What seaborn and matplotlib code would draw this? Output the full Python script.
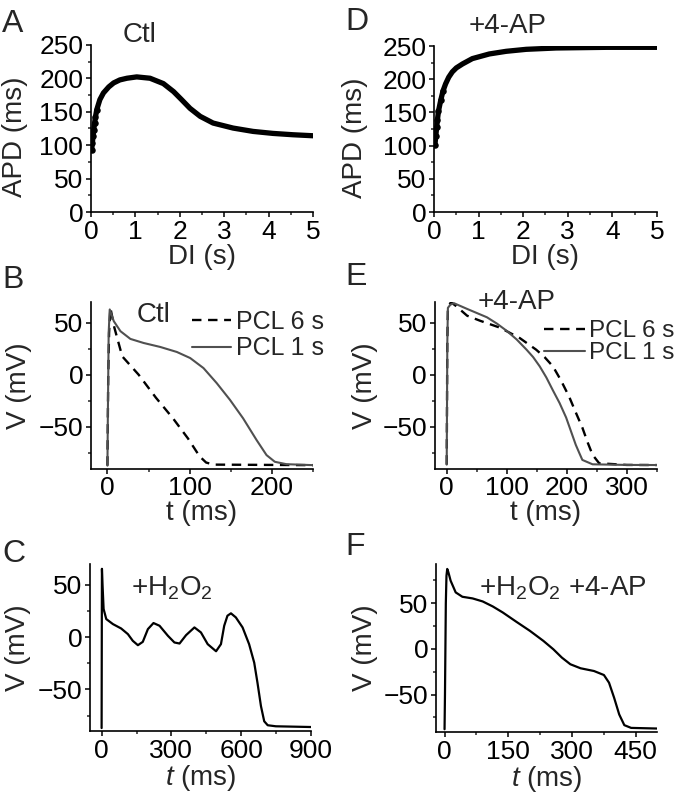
import seaborn as sns
import matplotlib.pyplot as plt
from matplotlib.ticker import MultipleLocator

# A: APD restitution, control
a_di = [0.015, 0.03, 0.045, 0.06, 0.08, 0.1, 0.13, 0.2, 0.28, 0.4, 0.51, 0.65, 0.81, 1.03,
        1.33, 1.63, 1.86, 2.04, 2.23, 2.46, 2.75, 3.2, 3.65, 4.1, 4.55, 5.0]
a_apd = [93, 103, 113, 122, 133, 142, 153, 168, 178, 187, 193, 197.5, 200, 202,
         200, 192, 180, 168, 155, 143, 133, 125.5, 120.5, 117.5, 115.5, 114]

# D: APD restitution, +4-AP
d_di = [0.02, 0.04, 0.06, 0.075, 0.1, 0.15, 0.2, 0.26, 0.33, 0.41, 0.5, 0.64, 0.86,
        1.24, 1.62, 2.07, 2.74, 3.87, 5.0]
d_apd = [101, 115, 128, 138, 152, 168, 182, 193, 203, 211, 217, 223, 231,
         238, 242, 245, 247, 248, 248]

# B: action potentials, control
b_t6 = [0, 0.5, 1, 2, 3.6, 8.5, 18, 38, 59, 80, 98, 112, 120, 129, 250]
b_v6 = [-87, -40, 0, 40, 64, 44.9, 17.6, 0, -22, -42, -61, -78, -84, -86, -86.5]
b_t1 = [0, 0.5, 1, 1.5, 2.8, 7.7, 15.8, 27.9, 44, 64.2, 84.4, 100.6, 116.8, 132.9, 149,
        165, 181.4, 193.5, 203.6, 217.8, 250]
b_v1 = [-87, -40, 0, 40, 62.5, 51.3, 41.7, 34.3, 30.4, 26.6, 21.8, 16, 6.4, -8, -24,
        -41.7, -62.5, -76.9, -83.3, -85.6, -86.5]

# E: action potentials, +4-AP
e_t6 = [0, 0.5, 1, 2, 7, 15, 34, 56, 89, 122, 149, 163, 177, 190, 204, 215, 226, 235,
        243, 254, 300, 350]
e_v6 = [-86, -30, 30, 64, 69.5, 66, 56.5, 51.6, 45, 35, 24, 16.9, 8, -5, -21, -36, -50.6,
        -65, -76.6, -84.7, -86.3, -86.4]
e_t1 = [0, 0.5, 1, 2, 6, 12, 34, 67, 83.5, 100, 116.5, 133, 144, 155, 166, 177, 188, 199,
        207, 215, 221, 226, 243, 300, 350]
e_v1 = [-86, -30, 30, 64, 67, 68.5, 63, 55, 49, 42, 33.8, 24, 16.9, 8, -2.6, -15, -27, -41,
        -54, -67, -75, -81.5, -85.7, -86.3, -86.4]

# C: +H2O2
c_t = [0, 0.5, 1, 1.4, 4, 8.6, 20, 48.6, 84, 113, 134, 156, 177, 199, 223, 249, 285, 313,
       335, 363, 399, 427, 456, 492, 513, 527, 541, 556, 577, 606, 634, 656, 670, 685, 699,
       714, 749, 900]
c_v = [-87, -30, 30, 65.4, 50, 26.9, 17.3, 12.5, 8.3, 2.9, -3.5, -7.7, -4.5, 7.7, 13.5, 10.9,
       1.3, -5.1, -6.1, 1.9, 9.3, 4.5, -6.7, -13.5, -6.7, 10.9, 20.5, 22.8, 18.9, 9.3, -6.7,
       -24.4, -43.6, -66, -80.5, -84.3, -85.3, -86]

# F: +H2O2 +4-AP
f_t = [0, 1, 2, 3, 4.5, 6.3, 9, 14.3, 26.2, 42, 66, 89.7, 113.5, 137, 169, 200.8, 232.5,
       256, 276, 296, 320, 351.6, 375, 387, 399, 411, 423, 439, 500]
f_v = [-88, -50, 0, 50, 80, 87.6, 84, 74.7, 61.9, 57.1, 55.3, 52, 46.5, 39.9, 29.7, 19.8,
       8.8, -0.4, -9.5, -16.8, -21.2, -24.2, -28.6, -37, -53.5, -71.8, -83.5, -86.5, -87.2]

sns.set_style('ticks')
plt.rcParams['font.family'] = ['Liberation Sans', 'DejaVu Sans']
plt.rcParams['mathtext.fontset'] = 'custom'
plt.rcParams['mathtext.rm'] = 'Liberation Sans'
plt.rcParams['mathtext.it'] = 'Liberation Sans:italic'

TICK_FS = 19
FS = 20


def style(ax, xlim, ylim, xmaj, xmin, ymaj, ymin, xlabel, ylabel, ylab_x, ylab_y=0.5):
    ax.set_xlim(xlim)
    ax.set_ylim(ylim)
    ax.xaxis.set_major_locator(MultipleLocator(xmaj))
    ax.xaxis.set_minor_locator(MultipleLocator(xmin))
    ax.yaxis.set_major_locator(MultipleLocator(ymaj))
    ax.yaxis.set_minor_locator(MultipleLocator(ymin))
    sns.despine(ax=ax)
    for s in ['left', 'bottom']:
        ax.spines[s].set_linewidth(1.2)
        ax.spines[s].set_color('black')
    ax.tick_params(which='major', direction='out', length=3.5, width=1.1, pad=2,
                   labelsize=TICK_FS, colors='black')
    ax.tick_params(which='minor', direction='out', length=2.2, width=1.1)
    ax.set_xlabel(xlabel, fontsize=FS, labelpad=0)
    ax.set_ylabel(ylabel, fontsize=FS)
    ax.yaxis.set_label_coords(ylab_x, ylab_y)


fig = plt.figure(figsize=(6.75, 8), dpi=100)

axA = fig.add_axes([0.1348, 0.735, 0.3289, 0.209])
axD = fig.add_axes([0.643, 0.735, 0.330, 0.2075])
axB = fig.add_axes([0.1348, 0.414, 0.3289, 0.209])
axE = fig.add_axes([0.644, 0.414, 0.329, 0.209])
axC = fig.add_axes([0.1333, 0.086, 0.3274, 0.209])
axF = fig.add_axes([0.646, 0.085, 0.3274, 0.21])

# restitution curves: thick trace, separate dots at the steep start
for ax, x, y in [(axA, a_di, a_apd), (axD, d_di, d_apd)]:
    sns.lineplot(x=x, y=y, ax=ax, color='black', linewidth=3.8, estimator=None, sort=False)
    sns.scatterplot(x=x[:7], y=y[:7], ax=ax, color='black', s=22, linewidth=0)
    style(ax, (0, 5), (0, 250), 1, 0.5, 50, 25, 'DI (s)', 'APD (ms)',
          -0.284 if ax is axA else -0.296, 0.45)

axA.text(0.22, 1.018, 'Ctl', transform=axA.transAxes, ha='center', va='baseline', fontsize=FS)
axD.text(0.33, 1.078, '+4-AP', transform=axD.transAxes, ha='center', va='baseline', fontsize=FS)

# action potentials at two pacing cycle lengths
for ax, t6, v6, t1, v1 in [(axB, b_t6, b_v6, b_t1, b_v1), (axE, e_t6, e_v6, e_t1, e_v1)]:
    sns.lineplot(x=t6, y=v6, ax=ax, color='black', linewidth=1.7, linestyle='--',
                 estimator=None, sort=False, label='PCL 6 s')
    ax.lines[-1].set_dashes([4, 2.8])
    sns.lineplot(x=t1, y=v1, ax=ax, color='#505050', linewidth=1.5,
                 estimator=None, sort=False, label='PCL 1 s')

style(axB, (-20, 250), (-90, 70), 100, 50, 50, 25, 't (ms)', 'V (mV)', -0.266)
style(axE, (-20, 350), (-90, 70), 100, 50, 50, 25, 't (ms)', 'V (mV)', -0.257)

axB.legend(loc='upper left', bbox_to_anchor=(0.455, 0.95), frameon=False, fontsize=18,
           handlelength=1.55, handletextpad=0.2, labelspacing=0.1, borderpad=0,
           borderaxespad=0)
axE.legend(loc='upper left', bbox_to_anchor=(0.491, 0.888), frameon=False, fontsize=17.5,
           handlelength=1.7, handletextpad=0.15, labelspacing=0, borderpad=0,
           borderaxespad=0)

axB.text(0.28, 0.88, 'Ctl', transform=axB.transAxes, ha='center', va='baseline', fontsize=FS)
axE.text(0.37, 0.958, '+4-AP', transform=axE.transAxes, ha='center', va='baseline', fontsize=FS)

# H2O2 action potentials
sns.lineplot(x=c_t, y=c_v, ax=axC, color='black', linewidth=1.6, estimator=None, sort=False)
sns.lineplot(x=f_t, y=f_v, ax=axF, color='black', linewidth=1.6, estimator=None, sort=False)
style(axC, (-50, 900), (-90, 70), 300, 150, 50, 25, '$t$ (ms)', 'V (mV)', -0.266)
style(axF, (-20, 500), (-91, 93), 150, 75, 50, 25, '$t$ (ms)', 'V (mV)', -0.262)

axC.text(0.37, 0.814, '+H$_2$O$_2$', transform=axC.transAxes, ha='center', va='baseline',
         fontsize=FS)
axF.text(0.575, 0.815, '+H$_2$O$_2$ +4-AP', transform=axF.transAxes, ha='center',
         va='baseline', fontsize=FS)

# panel letters
for lab, x, y in [('A', 0.003, 0.96), ('B', 0.003, 0.64), ('C', 0.003, 0.2975),
                  ('D', 0.512, 0.9625), ('E', 0.512, 0.644), ('F', 0.512, 0.306)]:
    fig.text(x, y, lab, ha='left', va='baseline', fontsize=23)

fig.savefig('out.png', dpi=100)
